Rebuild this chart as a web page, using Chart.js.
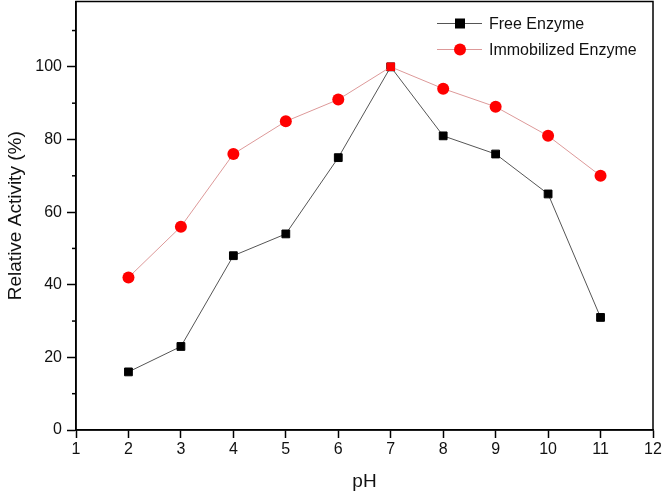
<!DOCTYPE html>
<html><head><meta charset="utf-8">
<script src="https://cdn.jsdelivr.net/npm/chart.js@4"></script>
<style>html,body{margin:0;padding:0;background:#fff;overflow:hidden}#wrap{width:664px;height:497px;overflow:hidden;position:relative}#c{position:absolute;left:0;top:-5px}</style>
</head><body><div id="wrap"><canvas id="c" width="664" height="502"></canvas></div>
<script>
const phValues = [2, 3, 4, 5, 6, 7, 8, 9, 10, 11];
const freeEnzyme = [16, 23, 48, 54, 75, 100, 81, 76, 65, 31];
const immobilizedEnzyme = [42, 56, 76, 85, 91, 100, 94, 89, 81, 70];
const yMajorTicks = [0, 20, 40, 60, 80, 100];
const yMinorTicks = [10, 30, 50, 70, 90, 110];
const xTicks = [1, 2, 3, 4, 5, 6, 7, 8, 9, 10, 11, 12];
const seriesNames = ['Free Enzyme', 'Immobilized Enzyme'];

const FONT = "'Liberation Sans', Arial, sans-serif";

const framePlugin = {
  id: 'frame',
  afterDraw(chart) {
    const {ctx, chartArea: a, scales} = chart;
    ctx.save();
    ctx.strokeStyle = '#000';
    ctx.lineWidth = 1.5;
    ctx.strokeRect(a.left, a.top, a.right - a.left, a.bottom - a.top);
    yMinorTicks.forEach(v => {
      const y = scales.y.getPixelForValue(v);
      ctx.beginPath(); ctx.moveTo(a.left - 4, y); ctx.lineTo(a.left, y); ctx.stroke();
    });
    const items = [
      {label: seriesNames[0], line: '#555', fill: '#000', shape: 'rect', dy: 22},
      {label: seriesNames[1], line: '#d99', fill: '#f00', shape: 'circle', dy: 48}
    ];
    ctx.font = '16px ' + FONT;
    ctx.textBaseline = 'middle';
    items.forEach(it => {
      const y = a.top + it.dy;
      ctx.strokeStyle = it.line; ctx.lineWidth = 1;
      ctx.beginPath(); ctx.moveTo(437, y); ctx.lineTo(482, y); ctx.stroke();
      ctx.fillStyle = it.fill;
      if (it.shape === 'rect') { ctx.fillRect(455, y - 5, 10, 10); }
      else { ctx.beginPath(); ctx.arc(460, y, 6, 0, Math.PI * 2); ctx.fill(); }
      ctx.fillStyle = '#111';
      ctx.fillText(it.label, 489, y + 1);
    });
    ctx.restore();
  }
};

new Chart(document.getElementById('c'), {
  type: 'line',
  data: {
    datasets: [
      {
        label: seriesNames[0],
        data: phValues.map((x, i) => ({x, y: freeEnzyme[i]})),
        borderColor: '#555', borderWidth: 1,
        pointStyle: 'rect', pointRadius: 5.5, pointBackgroundColor: '#000', pointBorderColor: '#000',
        order: 2
      },
      {
        label: seriesNames[1],
        data: phValues.map((x, i) => ({x, y: immobilizedEnzyme[i]})),
        borderColor: '#d99', borderWidth: 1,
        pointStyle: phValues.map(x => x === 7 ? 'rect' : 'circle'),
        pointRadius: 6,
        pointBackgroundColor: '#f00', pointBorderColor: '#f00', pointBorderWidth: 0,
        order: 1
      }
    ]
  },
  options: {
    responsive: false, animation: false,
    layout: {padding: {top: 0, right: 11, left: 0, bottom: 0}},
    plugins: {legend: {display: false}, tooltip: {enabled: false}},
    scales: {
      x: {
        type: 'linear', min: 1, max: 12,
        afterBuildTicks: s => { s.ticks = xTicks.map(v => ({value: v})); },
        afterFit: s => { s.height = 67; },
        grid: {drawOnChartArea: false, tickLength: 8, tickColor: '#000', tickWidth: 1.5},
        border: {color: '#000', width: 1.5},
        ticks: {color: '#111', font: {family: FONT, size: 16}, padding: 2},
        title: {display: true, text: 'pH', color: '#111', font: {family: FONT, size: 19}, padding: {top: 14}}
      },
      y: {
        type: 'linear', min: 0, max: 118,
        afterBuildTicks: s => { s.ticks = yMajorTicks.map(v => ({value: v})); },
        afterFit: s => { s.width = 76; s.paddingTop = 0; s.paddingBottom = 0; },
        grid: {drawOnChartArea: false, tickLength: 9, tickColor: '#000', tickWidth: 1.5},
        border: {color: '#000', width: 1.5},
        ticks: {color: '#111', font: {family: FONT, size: 16}, padding: 5},
        title: {display: true, text: 'Relative Activity (%)', color: '#111', font: {family: FONT, size: 19}, padding: {bottom: 0}}
      }
    }
  },
  plugins: [framePlugin]
});
</script></body></html>
